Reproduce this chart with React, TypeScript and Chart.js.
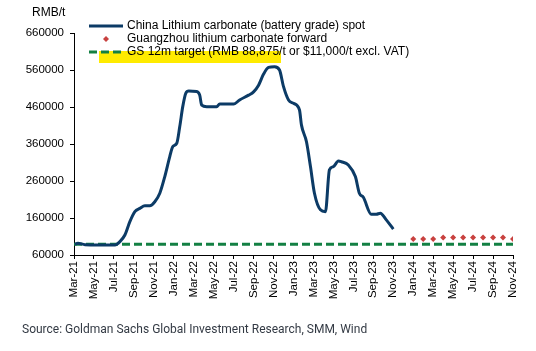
import React, { useEffect, useRef } from "react";
import { Chart, registerables } from "chart.js";

Chart.register(...registerables);

// x values are months since Mar-21 (0 = Mar-21, 44 = Nov-24)
const monthLabels = [
  "Mar-21", "Apr-21", "May-21", "Jun-21", "Jul-21", "Aug-21", "Sep-21", "Oct-21", "Nov-21", "Dec-21",
  "Jan-22", "Feb-22", "Mar-22", "Apr-22", "May-22", "Jun-22", "Jul-22", "Aug-22", "Sep-22", "Oct-22", "Nov-22", "Dec-22",
  "Jan-23", "Feb-23", "Mar-23", "Apr-23", "May-23", "Jun-23", "Jul-23", "Aug-23", "Sep-23", "Oct-23", "Nov-23", "Dec-23",
  "Jan-24", "Feb-24", "Mar-24", "Apr-24", "May-24", "Jun-24", "Jul-24", "Aug-24", "Sep-24", "Oct-24", "Nov-24",
];

const spotMonths = [
  0.1, 0.4, 1.1, 4.1, 4.6, 5.1, 5.6, 6.1, 6.6, 7.1, 7.6, 8.1, 8.6, 9.1, 9.6, 9.9, 10.3, 10.6, 10.9, 11.2, 11.5,
  12.3, 12.6, 12.8, 13.3, 14.3, 14.6, 16.0, 16.6, 17.5, 18.0, 18.5, 19.0, 19.5, 20.1, 20.6, 21.0, 21.5, 22.0,
  22.6, 22.8, 23.3, 23.7, 24.1, 24.7, 25.2, 25.6, 26.0, 26.5, 26.8, 27.5, 28.2, 28.6, 29.0, 29.8, 30.3, 30.7,
  31.3, 32.0,
];
const spotValues = [
  89000, 92000, 88000, 87000, 96000, 114000, 150000, 177000, 186000, 193000, 193000, 204000, 227000, 272000,
  326000, 353000, 362000, 407000, 461000, 497000, 503000, 502000, 492000, 465000, 461000, 461000, 468000,
  468000, 479000, 492000, 501000, 519000, 549000, 567000, 569000, 560000, 515000, 479000, 470000, 452000,
  411000, 366000, 299000, 227000, 182000, 177000, 290000, 299000, 314000, 312000, 303000, 272000, 227000,
  216000, 170000, 170000, 173000, 155000, 130000,
];

const forwardMonths = [34, 35, 36, 37, 38, 39, 40, 41, 42, 43, 44];
const forwardValues = [103000, 103000, 103000, 107000, 107000, 107000, 107000, 107000, 107000, 107000, 103000];

const targetMonths = [0, 44];
const targetValue = 88875;

const yTicks = [60000, 160000, 260000, 360000, 460000, 560000, 660000];

const legendLabels = [
  "China Lithium carbonate (battery grade) spot",
  "Guangzhou lithium carbonate forward",
  "GS 12m target (RMB 88,875/t or $11,000/t excl. VAT)",
];
const sourceText = "Source: Goldman Sachs Global Investment Research, SMM, Wind";
const yUnit = "RMB/t";

const NAVY = "#0c3b66";
const RED = "#c8413f";
const GREEN = "#138043";
const FONT = "'Liberation Sans', Arial, sans-serif";

const overlayPlugin = {
  id: "overlay",
  beforeDatasetsDraw(chart: any) {
    const ctx = chart.ctx;
    ctx.save();
    ctx.fillStyle = "#ffeb00";
    ctx.fillRect(99, 51, 182, 12);
    ctx.restore();
  },
  afterDraw(chart: any) {
    const ctx = chart.ctx;
    ctx.save();
    ctx.font = `12px ${FONT}`;
    ctx.fillStyle = "#000";
    ctx.textBaseline = "middle";
    ctx.textAlign = "left";
    ctx.fillText(yUnit, 32, 13);
    const rows = [26, 39, 52];
    // legend symbols
    ctx.lineWidth = 3;
    ctx.strokeStyle = NAVY;
    ctx.beginPath();
    ctx.moveTo(89, rows[0]);
    ctx.lineTo(123, rows[0]);
    ctx.stroke();
    ctx.fillStyle = RED;
    ctx.beginPath();
    ctx.moveTo(106, rows[1] - 3);
    ctx.lineTo(109, rows[1]);
    ctx.lineTo(106, rows[1] + 3);
    ctx.lineTo(103, rows[1]);
    ctx.closePath();
    ctx.fill();
    ctx.strokeStyle = GREEN;
    ctx.setLineDash([8, 4]);
    ctx.beginPath();
    ctx.moveTo(89, rows[2]);
    ctx.lineTo(125, rows[2]);
    ctx.stroke();
    ctx.setLineDash([]);
    ctx.fillStyle = "#000";
    legendLabels.forEach((t, i) => ctx.fillText(t, 127, rows[i]));
    ctx.font = `12px Roboto, 'Open Sans', sans-serif`;
    ctx.fillStyle = "#333a44";
    ctx.fillText(sourceText, 22, 330);
    ctx.restore();
  },
};

export default function App() {
  const ref = useRef<HTMLCanvasElement>(null);
  useEffect(() => {
    if (!ref.current) return;
    const chart = new Chart(ref.current, {
      type: "line",
      data: {
        datasets: [
          {
            label: legendLabels[0],
            data: spotMonths.map((m, i) => ({ x: m, y: spotValues[i] })),
            borderColor: NAVY,
            borderWidth: 3,
            pointRadius: 0,
            tension: 0.3,
            cubicInterpolationMode: "monotone",
          },
          {
            label: legendLabels[1],
            data: forwardMonths.map((m, i) => ({ x: m, y: forwardValues[i] })),
            showLine: false,
            pointStyle: "rectRot",
            pointRadius: 3,
            backgroundColor: RED,
            borderColor: RED,
            borderWidth: 0,
          },
          {
            label: legendLabels[2],
            data: targetMonths.map((m) => ({ x: m, y: targetValue })),
            borderColor: GREEN,
            borderWidth: 3,
            borderDash: [8, 4],
            pointRadius: 0,
          },
        ],
      },
      options: {
        animation: false,
        responsive: false,
        layout: { padding: { left: 0, right: 23, top: 33, bottom: 0 } },
        plugins: { legend: { display: false }, tooltip: { enabled: false } },
        scales: {
          x: {
            type: "linear",
            min: 0,
            max: 44,
            afterBuildTicks: (axis: any) => {
              axis.ticks = monthLabels.map((_, i) => ({ value: i })).filter((t) => t.value % 2 === 0);
            },
            afterFit: (axis: any) => {
              axis.height = 96;
            },
            ticks: {
              autoSkip: false,
              minRotation: 90,
              maxRotation: 90,
              color: "#000",
              font: { family: FONT, size: 11.5 },
              padding: 2,
              callback: (v: any) => monthLabels[v],
            },
            grid: { drawOnChartArea: false, drawTicks: true, tickLength: 4, color: "#000" },
            border: { display: true, color: "#000", width: 1 },
          },
          y: {
            min: 60000,
            max: 660000,
            afterBuildTicks: (axis: any) => {
              axis.ticks = yTicks.map((v) => ({ value: v }));
            },
            afterFit: (axis: any) => {
              axis.width = 74;
            },
            ticks: {
              color: "#000",
              font: { family: FONT, size: 11.5 },
              padding: 6,
              callback: (v: any) => String(v),
            },
            grid: { drawOnChartArea: false, drawTicks: true, tickLength: 4, color: "#000" },
            border: { display: true, color: "#000", width: 1 },
          },
        },
      },
      plugins: [overlayPlugin],
    } as any);
    return () => chart.destroy();
  }, []);
  return (
    <div style={{ position: "fixed", left: 0, top: 0, width: 536, height: 351, background: "#fff" }}>
      <canvas ref={ref} width={536} height={351} style={{ display: "block" }} />
    </div>
  );
}
